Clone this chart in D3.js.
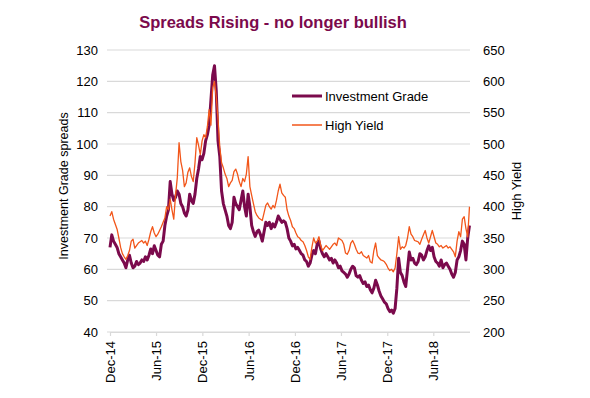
<!DOCTYPE html>
<html>
<head>
<meta charset="utf-8">
<script src="https://cdn.jsdelivr.net/npm/d3@7.9.0/dist/d3.min.js"></script>
<style>
  html, body { margin: 0; padding: 0; background: #fff; }
  svg { display: block; font-family: "Liberation Sans", Arial, sans-serif; }
</style>
</head>
<body>
<div id="chart"></div>
<script>
// weekly readings, first week = 1 Dec 2014
const startDate = new Date(2014, 11, 1);

// Investment Grade spreads (left axis)
const igValues = [
  67, 71, 69, 68, 67, 65, 64, 63, 62, 60.5, 63, 64.5, 62, 60.5, 61, 62.5, 61.5, 62, 63, 62.5,
  64, 63, 64.5, 66.5, 65, 67.5, 66, 64.5, 64, 68, 69, 74, 77, 79, 88, 84, 82, 83, 85, 84,
  81, 80, 78, 77, 79, 84, 82, 81, 84, 89, 92, 96, 95, 97, 101, 103, 106, 114, 122, 125,
  117, 101, 96, 85, 81, 79, 77, 74, 73, 75, 83, 81, 80, 79, 82, 85, 80, 77, 84, 80,
  74, 72, 70.5, 72, 72.5, 71, 69, 72, 75, 74, 75, 73, 74.5, 73.5, 75, 77, 76, 75, 75.5, 75,
  73, 70, 69, 67.5, 68, 66.5, 67, 66, 65, 64.5, 63, 62.5, 61, 62, 64.5, 66, 65, 68, 69, 66.5,
  65, 64, 65, 64, 63, 63.5, 62, 63, 62, 60.5, 61, 59.5, 59, 58.5, 57.5, 58.5, 60, 61, 60.5, 58,
  57.5, 58, 56.5, 55.5, 56, 54.5, 55, 53.5, 52.5, 54, 56.5, 55, 53, 51.5, 50.5, 49.5, 49, 47.5, 46.5, 47,
  46, 47.5, 54, 63.5, 59, 58, 56, 54.5, 60, 65.5, 63, 63.5, 62, 61.5, 62.5, 65, 64.5, 63, 64, 66,
  67.5, 66, 67, 64, 62.5, 62, 61, 63, 60.5, 61.5, 62, 61, 60, 58.5, 57.5, 59, 63, 64, 66, 69,
  68, 63, 70, 74
];

// High Yield spreads (right axis)
const hyValues = [
  385, 392, 380, 372, 364, 350, 335, 325, 320, 316, 322, 330, 345, 348, 334, 338, 342, 344, 346, 342,
  345, 338, 348, 360, 368, 358, 352, 356, 362, 368, 375, 382, 400, 395, 412, 395, 380, 418, 446, 502,
  472, 458, 432, 438, 455, 462, 448, 440, 470, 510, 498, 483, 505, 515, 510, 528, 555, 530, 590, 600,
  575, 540, 495, 470, 462, 452, 445, 432, 438, 442, 456, 460, 452, 440, 432, 445, 440, 452, 480, 432,
  418, 405, 392, 386, 382, 380, 378, 390, 402, 406, 400, 396, 402, 398, 410, 425, 436, 422, 418, 415,
  395, 385, 378, 368, 365, 358, 352, 350, 346, 344, 338, 330, 320, 316, 335, 350, 342, 345, 352, 338,
  330, 334, 338, 335, 332, 336, 340, 342, 338, 350, 348, 346, 340, 326, 324, 330, 342, 346, 340, 332,
  326, 325, 328, 322, 320, 318, 322, 312, 310, 330, 342, 322, 318, 315, 314, 312, 308, 302, 298, 300,
  296, 302, 325, 352, 332, 336, 334, 338, 350, 368, 356, 352, 346, 345, 344, 340, 348, 355, 362, 350,
  342, 352, 362, 352, 342, 340, 336, 338, 334, 336, 338, 334, 336, 332, 328, 320, 345, 360, 352, 380,
  384, 365, 352, 400
];

const leftTicks = [40, 50, 60, 70, 80, 90, 100, 110, 120, 130];
const rightTicks = [200, 250, 300, 350, 400, 450, 500, 550, 600, 650];
const xTickLabels = ['Dec-14', 'Jun-15', 'Dec-15', 'Jun-16', 'Dec-16', 'Jun-17', 'Dec-17', 'Jun-18'];
const seriesNames = ['Investment Grade', 'High Yield'];
const titleText = 'Spreads Rising - no longer bullish';

const igColor = '#7b0a4c';
const hyColor = '#f2561a';

const width = 590, height = 398;
const plot = { left: 110, right: 470, top: 50, bottom: 332 };

const svg = d3.select('#chart').append('svg')
  .attr('width', width)
  .attr('height', height);

// scales
const parseTick = d3.timeParse('%b-%y');
const xTicks = xTickLabels.map(parseTick);

const xScale = d3.scaleTime()
  .domain([xTicks[0], xTicks[xTicks.length - 1]])
  .range([plot.left, 433.3]);

const yLeft = d3.scaleLinear().domain([40, 130]).range([plot.bottom, plot.top]);
const yRight = d3.scaleLinear().domain([200, 650]).range([plot.bottom, plot.top]);

const dates = igValues.map((_, i) => d3.timeDay.offset(startDate, i * 7));
const igData = igValues.map((v, i) => ({ date: dates[i], v }));
const hyData = hyValues.map((v, i) => ({ date: dates[i], v }));

// gridlines
svg.append('g')
  .selectAll('line')
  .data(leftTicks)
  .join('line')
  .attr('x1', plot.left - 3)
  .attr('x2', plot.right)
  .attr('y1', d => yLeft(d))
  .attr('y2', d => yLeft(d))
  .attr('stroke', '#d9d9d9')
  .attr('stroke-width', 1.2);

// left axis labels
svg.append('g')
  .selectAll('text')
  .data(leftTicks)
  .join('text')
  .attr('x', 98)
  .attr('y', d => yLeft(d))
  .attr('dy', '0.35em')
  .attr('text-anchor', 'end')
  .attr('font-size', 13)
  .attr('fill', '#000')
  .text(d => d);

// right axis labels
svg.append('g')
  .selectAll('text')
  .data(rightTicks)
  .join('text')
  .attr('x', 483)
  .attr('y', d => yRight(d))
  .attr('dy', '0.35em')
  .attr('text-anchor', 'start')
  .attr('font-size', 13)
  .attr('fill', '#000')
  .text(d => d);

// x axis
const xAxis = svg.append('g')
  .attr('transform', `translate(0,${plot.bottom})`)
  .call(d3.axisBottom(xScale)
    .tickValues(xTicks)
    .tickFormat(d3.timeFormat('%b-%y'))
    .tickSize(4)
    .tickSizeOuter(0));
xAxis.select('.domain').attr('stroke', '#d9d9d9').attr('stroke-width', 1.2)
  .attr('d', `M${plot.left},0.5H${plot.right}`);
xAxis.selectAll('.tick line').attr('stroke', '#d9d9d9').attr('stroke-width', 1.2);
xAxis.selectAll('.tick text')
  .attr('font-family', '"Liberation Sans", Arial, sans-serif')
  .attr('font-size', 13)
  .attr('fill', '#000')
  .attr('transform', 'rotate(-90)')
  .attr('text-anchor', 'end')
  .attr('x', -9)
  .attr('y', 0)
  .attr('dy', '0.35em');

// lines
const igLine = d3.line().x(d => xScale(d.date)).y(d => yLeft(d.v));
const hyLine = d3.line().x(d => xScale(d.date)).y(d => yRight(d.v));

svg.append('path')
  .datum(igData)
  .attr('d', igLine)
  .attr('fill', 'none')
  .attr('stroke', igColor)
  .attr('stroke-width', 3)
  .attr('stroke-linejoin', 'round');

svg.append('path')
  .datum(hyData)
  .attr('d', hyLine)
  .attr('fill', 'none')
  .attr('stroke', hyColor)
  .attr('stroke-width', 1.3)
  .attr('stroke-linejoin', 'round');

// axis titles
svg.append('text')
  .attr('transform', 'translate(68,186) rotate(-90)')
  .attr('text-anchor', 'middle')
  .attr('font-size', 12.5)
  .attr('fill', '#000')
  .text('Investment Grade spreads');

svg.append('text')
  .attr('transform', 'translate(521,191) rotate(-90)')
  .attr('text-anchor', 'middle')
  .attr('font-size', 13)
  .attr('fill', '#000')
  .text('High Yield');

// title
svg.append('text')
  .attr('x', 273)
  .attr('y', 28)
  .attr('text-anchor', 'middle')
  .attr('font-size', 16.5)
  .attr('font-weight', 'bold')
  .attr('fill', igColor)
  .text(titleText);

// legend
const legend = svg.append('g');
const legendItems = [
  { name: seriesNames[0], color: igColor, w: 3, y: 96 },
  { name: seriesNames[1], color: hyColor, w: 1.5, y: 125 }
];
legend.selectAll('line')
  .data(legendItems)
  .join('line')
  .attr('x1', 292).attr('x2', 322)
  .attr('y1', d => d.y).attr('y2', d => d.y)
  .attr('stroke', d => d.color)
  .attr('stroke-width', d => d.w);
legend.selectAll('text')
  .data(legendItems)
  .join('text')
  .attr('x', 325)
  .attr('y', d => d.y)
  .attr('dy', '0.35em')
  .attr('font-size', 13)
  .attr('fill', '#000')
  .text(d => d.name);
</script>
</body>
</html>
